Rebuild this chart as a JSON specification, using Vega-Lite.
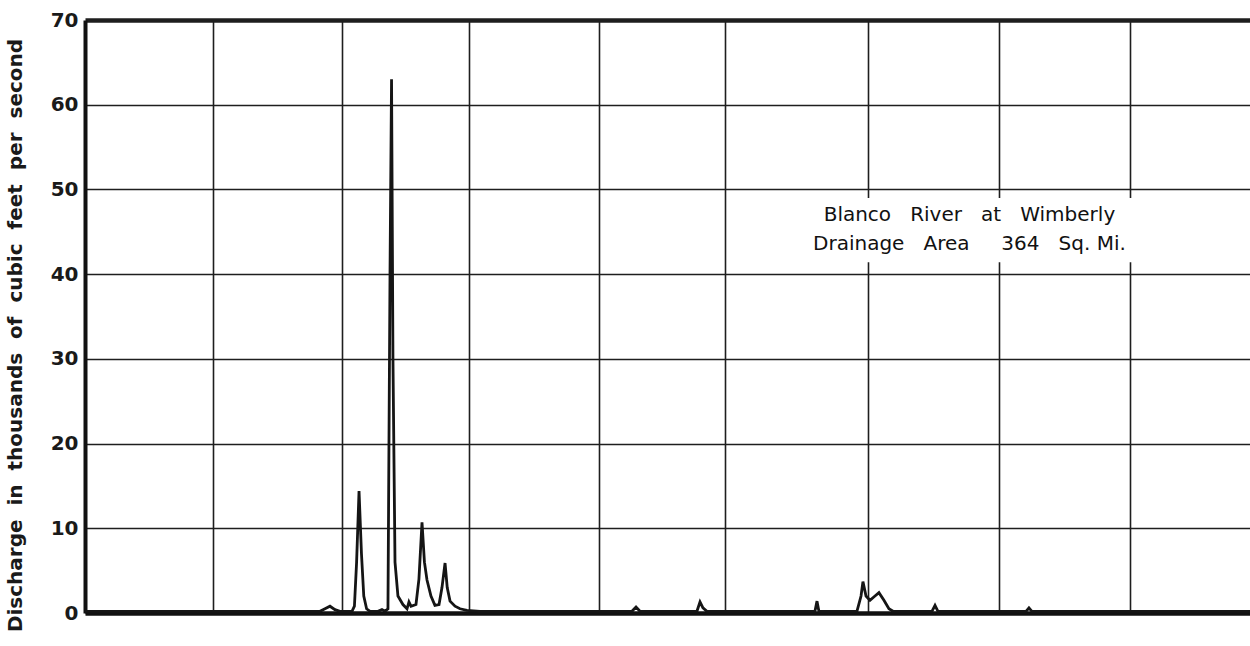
{
  "$schema": "https://vega.github.io/schema/vega-lite/v6.json",
  "autosize": "none",
  "width": 1165,
  "height": 593,
  "padding": {"left": 85, "top": 20, "right": 0, "bottom": 33},
  "background": "#ffffff",
  "config": {"view": {"stroke": null}},
  "datasets": {
    "flow": [
      {"t": 0, "q": 0.2}, {"t": 8.98, "q": 0.2}, {"t": 18.36, "q": 0.2}, {"t": 18.75, "q": 0.5},
      {"t": 19.14, "q": 0.8}, {"t": 19.53, "q": 0.4}, {"t": 19.92, "q": 0.2}, {"t": 20.86, "q": 0.2},
      {"t": 21.05, "q": 0.8}, {"t": 21.22, "q": 6}, {"t": 21.41, "q": 14.4}, {"t": 21.6, "q": 7},
      {"t": 21.78, "q": 2}, {"t": 22.0, "q": 0.5}, {"t": 22.27, "q": 0.2}, {"t": 22.89, "q": 0.2},
      {"t": 23.2, "q": 0.4}, {"t": 23.44, "q": 0.2}, {"t": 23.67, "q": 0.5}, {"t": 23.83, "q": 40},
      {"t": 23.95, "q": 63}, {"t": 24.06, "q": 30}, {"t": 24.22, "q": 6}, {"t": 24.45, "q": 2.0},
      {"t": 24.84, "q": 1.0}, {"t": 25.16, "q": 0.5}, {"t": 25.31, "q": 1.3}, {"t": 25.47, "q": 0.8},
      {"t": 25.86, "q": 1.0}, {"t": 26.09, "q": 4}, {"t": 26.33, "q": 10.7}, {"t": 26.52, "q": 6},
      {"t": 26.72, "q": 3.9}, {"t": 27.03, "q": 2}, {"t": 27.34, "q": 0.9}, {"t": 27.66, "q": 1.0},
      {"t": 27.89, "q": 3}, {"t": 28.13, "q": 5.9}, {"t": 28.3, "q": 3}, {"t": 28.52, "q": 1.4},
      {"t": 28.91, "q": 0.8}, {"t": 29.3, "q": 0.5}, {"t": 29.84, "q": 0.3}, {"t": 30.86, "q": 0.2},
      {"t": 42.73, "q": 0.2}, {"t": 43.05, "q": 0.7}, {"t": 43.36, "q": 0.2},
      {"t": 47.81, "q": 0.2}, {"t": 48.05, "q": 1.3}, {"t": 48.28, "q": 0.6}, {"t": 48.59, "q": 0.2},
      {"t": 57.03, "q": 0.2}, {"t": 57.19, "q": 1.4}, {"t": 57.34, "q": 0.2},
      {"t": 60.31, "q": 0.2}, {"t": 60.63, "q": 2}, {"t": 60.78, "q": 3.7}, {"t": 61.02, "q": 2},
      {"t": 61.33, "q": 1.5}, {"t": 61.72, "q": 2}, {"t": 62.03, "q": 2.4}, {"t": 62.42, "q": 1.5},
      {"t": 62.81, "q": 0.5}, {"t": 63.13, "q": 0.2},
      {"t": 66.17, "q": 0.2}, {"t": 66.41, "q": 0.9}, {"t": 66.64, "q": 0.2},
      {"t": 73.52, "q": 0.2}, {"t": 73.75, "q": 0.6}, {"t": 73.98, "q": 0.2},
      {"t": 91.02, "q": 0.2}
    ],
    "box": [{"t1": 56.25, "t2": 82.0, "q1": 49.0, "q2": 41.4}],
    "notes": [
      {"t": 69.1, "q": 47.0, "label": "Blanco\u00a0\u00a0 River\u00a0\u00a0 at\u00a0\u00a0 Wimberly"},
      {"t": 69.1, "q": 43.6, "label": "Drainage\u00a0\u00a0 Area\u00a0\u00a0\u00a0\u00a0 364\u00a0\u00a0 Sq.\u00a0Mi."}
    ]
  },
  "layer": [
    {
      "data": {"name": "box"},
      "mark": {"type": "rect", "fill": "#ffffff", "stroke": null},
      "encoding": {
        "x": {"field": "t1", "type": "quantitative", "scale": {"domain": [0, 91.02], "nice": false, "zero": false},
          "axis": {
            "title": null, "labels": false, "ticks": false,
            "values": [10.0, 20.08, 30.0, 40.16, 50.0, 61.17, 71.41, 81.64],
            "grid": true, "gridColor": "#1e1e1e", "gridWidth": 1.6, "gridOpacity": 1,
            "domain": true, "domainColor": "#111111", "domainWidth": 4.5
          }
        },
        "x2": {"field": "t2"},
        "y": {"field": "q1", "type": "quantitative", "scale": {"domain": [0, 70], "nice": false},
          "axis": {
            "title": "Discharge\u00a0 in\u00a0 thousands\u00a0 of\u00a0 cubic\u00a0 feet\u00a0 per\u00a0 second",
            "titleFont": "DejaVu Sans", "titleFontSize": 20, "titleFontWeight": "bold", "titleColor": "#1a1a1a",
            "titleAngle": 270, "titleX": -64, "titleY": 315, "titleAlign": "center", "titleBaseline": "alphabetic",
            "values": [0, 10, 20, 30, 40, 50, 60, 70],
            "labelFont": "DejaVu Sans", "labelFontSize": 20, "labelFontWeight": "bold", "labelColor": "#1a1a1a",
            "labelPadding": 7, "ticks": false,
            "grid": true, "gridColor": "#1e1e1e", "gridOpacity": 1,
            "gridWidth": {"condition": {"test": "datum.value === 70", "value": 4.5}, "value": 1.6},
            "domain": true, "domainColor": "#111111", "domainWidth": 4
          }
        },
        "y2": {"field": "q2"}
      }
    },
    {
      "data": {"name": "flow"},
      "mark": {"type": "line", "color": "#151515", "strokeWidth": 2.8, "interpolate": "linear"},
      "encoding": {
        "x": {"field": "t", "type": "quantitative"},
        "y": {"field": "q", "type": "quantitative"}
      }
    },
    {
      "data": {"name": "notes"},
      "mark": {"type": "text", "font": "DejaVu Sans", "fontSize": 20, "color": "#111111", "align": "center", "baseline": "middle"},
      "encoding": {
        "x": {"field": "t", "type": "quantitative"},
        "y": {"field": "q", "type": "quantitative"},
        "text": {"field": "label"}
      }
    }
  ]
}
